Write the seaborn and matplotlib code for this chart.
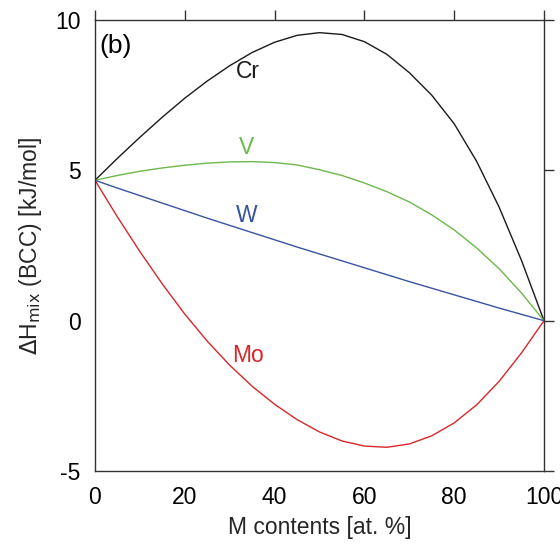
import matplotlib
matplotlib.use("Agg")
import matplotlib.pyplot as plt
import pandas as pd
import seaborn as sns

# M content (at. %) and mixing enthalpy of the BCC solid solution (kJ/mol)
m_content = [0, 5, 10, 15, 20, 25, 30, 35, 40, 45, 50,
             55, 60, 65, 70, 75, 80, 85, 90, 95, 100]
dh_cr = [4.67, 5.40, 6.10, 6.77, 7.40, 7.97, 8.48, 8.92, 9.26, 9.49, 9.58,
         9.52, 9.28, 8.86, 8.25, 7.50, 6.55, 5.30, 3.78, 2.00, 0.0]
dh_v = [4.67, 4.83, 4.97, 5.08, 5.17, 5.24, 5.28, 5.29, 5.26, 5.18, 5.02,
        4.83, 4.58, 4.29, 3.95, 3.52, 3.02, 2.42, 1.73, 0.92, 0.0]
dh_w = [4.67, 4.41, 4.16, 3.91, 3.66, 3.41, 3.17, 2.93, 2.69, 2.45, 2.22,
        1.99, 1.76, 1.53, 1.30, 1.08, 0.86, 0.64, 0.42, 0.21, 0.0]
dh_mo = [4.67, 3.45, 2.30, 1.22, 0.22, -0.68, -1.48, -2.18, -2.78, -3.29, -3.70,
         -4.00, -4.17, -4.21, -4.10, -3.83, -3.40, -2.80, -2.02, -1.07, 0.0]

elements = ["Cr", "V", "W", "Mo"]
colors = {"Cr": "#1a1a1a", "V": "#6cb84a", "W": "#3953a4", "Mo": "#d8262a"}
# label anchor (x, y) in data units for each curve
label_pos = {"Cr": (34, 8.28), "V": (33.8, 5.75), "W": (33.8, 3.5), "Mo": (34, -1.15)}

df = pd.concat([
    pd.DataFrame({"M": m_content, "dH": vals, "el": name})
    for name, vals in zip(elements, [dh_cr, dh_v, dh_w, dh_mo])
])

sns.set_theme(style="white")
plt.rcParams["font.family"] = ["Liberation Sans", "DejaVu Sans"]
plt.rcParams["axes.unicode_minus"] = False

fig = plt.figure(figsize=(5.6, 5.5), dpi=100)
ax = fig.add_axes([0.1696, 0.1436, 0.8018, 0.82])

sns.lineplot(data=df, x="M", y="dH", hue="el", hue_order=elements,
             palette=colors, linewidth=1.0, legend=False, ax=ax, sort=False)

for name in elements:
    x, y = label_pos[name]
    ax.text(x, y, name, color=colors[name], fontsize=16.5,
            ha="center", va="center")

ax.text(0.9, 9.15, "(b)", fontsize=19, ha="left", va="center", color="black")

ax.set_xlim(0, 100)
ax.set_ylim(-5, 10)
ax.set_xticks([0, 20, 40, 60, 80, 100])
ax.set_yticks([-5, 0, 5, 10])
ax.set_xlabel("M contents [at. %]", fontsize=16.5, labelpad=5)
ax.set_ylabel(r"$\Delta$H$_{\mathrm{mix}}$ (BCC) [kJ/mol]", fontsize=16.5, labelpad=8)

for side in ["left", "right", "top", "bottom"]:
    ax.spines[side].set_visible(True)
    ax.spines[side].set_color("#333333")
    ax.spines[side].set_linewidth(1.0)

ax.tick_params(axis="both", which="major", direction="out", length=7.5,
               width=1.0, color="#333333", labelsize=16.5, labelcolor="black",
               top=True, right=True, labeltop=False, labelright=False, pad=3)

fig.savefig("out.png", dpi=100, facecolor="white")
